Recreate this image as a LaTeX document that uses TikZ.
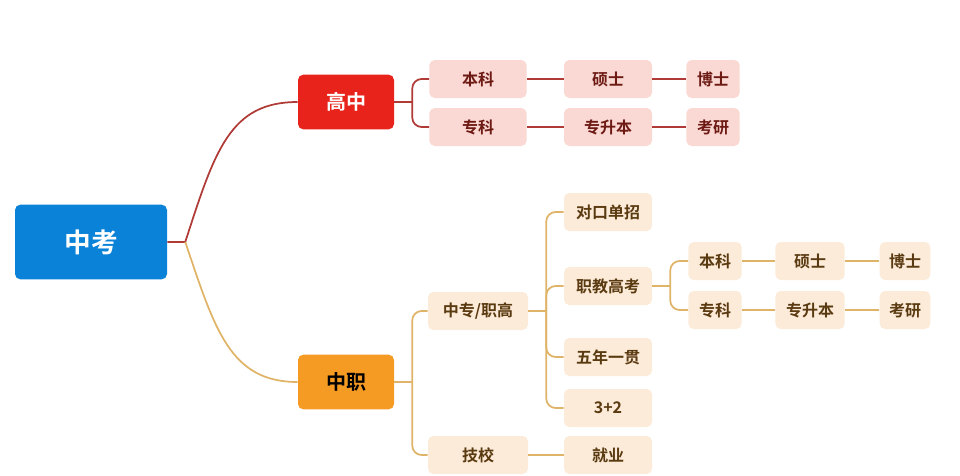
\documentclass[tikz,border=0pt]{standalone}
\usepackage{fontspec}
\setmainfont{Noto Sans CJK SC}[BoldFont={* Bold}]
\usetikzlibrary{positioning}
\definecolor{rootblue}{HTML}{0A82D8}
\definecolor{gzred}{HTML}{E8231B}
\definecolor{zzorange}{HTML}{F59A23}
\definecolor{pinkbox}{HTML}{FAD8D3}
\definecolor{creambox}{HTML}{FCEBD9}
\definecolor{redtext}{HTML}{6E1A14}
\definecolor{browntext}{HTML}{5A3A10}
\definecolor{redline}{HTML}{B03A36}
\definecolor{goldline}{HTML}{E0B468}
\tikzset{
  box/.style={rounded corners=4pt, inner sep=0pt, font=\bfseries\fontsize{12}{12}\selectfont},
  rbox/.style={box, fill=pinkbox, text=redtext, minimum height=28.5pt},
  obox/.style={box, fill=creambox, text=browntext, minimum height=28.5pt},
  rline/.style={redline, line width=1.3pt},
  oline/.style={goldline, line width=1.3pt},
  brk/.style={rounded corners=7pt}
}
\begin{document}
\begin{tikzpicture}[x=0.75pt,y=-0.75pt]
  \useasboundingbox (0,0) rectangle (960,475);
  % main nodes
  \node[box, fill=rootblue, text=white, minimum width=114pt, minimum height=56pt,
        font=\bfseries\fontsize{20}{20}\selectfont] (zk) at (91,242) {中考};
  \node[box, fill=gzred, text=white, minimum width=72pt, minimum height=41pt,
        font=\bfseries\fontsize{15}{15}\selectfont] (gz) at (346,102) {高中};
  \node[box, fill=zzorange, text=black, minimum width=72pt, minimum height=41pt,
        font=\bfseries\fontsize{15}{15}\selectfont] (zz) at (346,382) {中职};
  % high school branch
  \node[rbox, minimum width=73pt] (gbk) at (478,79) {本科};
  \node[rbox, minimum width=73pt] (gzk) at (478,127) {专科};
  \node[rbox, minimum width=66pt] (gss) at (608,79) {硕士};
  \node[rbox, minimum width=66pt] (gzsb) at (608,127) {专升本};
  \node[rbox, minimum width=40pt] (gbs) at (713,79) {博士};
  \node[rbox, minimum width=40pt] (gky) at (713,127) {考研};
  % vocational branch
  \node[obox, minimum width=75pt] (zzzg) at (478,311) {中专/职高};
  \node[obox, minimum width=75pt] (jx) at (478,455) {技校};
  \node[obox, minimum width=66pt] (dk) at (608,212) {对口单招};
  \node[obox, minimum width=66pt] (zjgk) at (608,286) {职教高考};
  \node[obox, minimum width=66pt] (wn) at (608,357) {五年一贯};
  \node[obox, minimum width=66pt] (sj) at (608,408) {3+2};
  \node[obox, minimum width=66pt] (jy) at (608,455) {就业};
  \node[obox, minimum width=40pt] (obk) at (715,261) {本科};
  \node[obox, minimum width=40pt] (ozk) at (715,310) {专科};
  \node[obox, minimum width=52pt] (oss) at (810,261) {硕士};
  \node[obox, minimum width=52pt] (ozsb) at (810,310) {专升本};
  \node[obox, minimum width=38pt] (obs) at (905,261) {博士};
  \node[obox, minimum width=38pt] (oky) at (905,310) {考研};
  % root curves
  \draw[rline] (zk.east) -- ++(18,0) coordinate (zkr)
    .. controls (215,150) and (230,102) .. (gz.west);
  \draw[oline] (zkr) .. controls (215,330) and (230,382) .. (zz.west);
  % brackets
  \draw[rline] (gz.east) -- ++(18,0) coordinate (gzb);
  \draw[rline,brk] (gzb) |- (gbk.west);
  \draw[rline,brk] (gzb) |- (gzk.west);
  \draw[oline] (zz.east) -- ++(18,0) coordinate (zzb);
  \draw[oline,brk] (zzb) |- (zzzg.west);
  \draw[oline,brk] (zzb) |- (jx.west);
  \draw[oline] (zzzg.east) -- ++(18,0) coordinate (zgb);
  \foreach \n in {dk,zjgk,wn,sj} \draw[oline,brk] (zgb) |- (\n.west);
  \draw[oline] (zjgk.east) -- ++(18,0) coordinate (gkb);
  \draw[oline,brk] (gkb) |- (obk.west);
  \draw[oline,brk] (gkb) |- (ozk.west);
  % chains
  \draw[rline] (gbk) -- (gss);
  \draw[rline] (gss) -- (gbs);
  \draw[rline] (gzk) -- (gzsb);
  \draw[rline] (gzsb) -- (gky);
  \draw[oline] (jx) -- (jy);
  \draw[oline] (obk) -- (oss);
  \draw[oline] (oss) -- (obs);
  \draw[oline] (ozk) -- (ozsb);
  \draw[oline] (ozsb) -- (oky);
\end{tikzpicture}
\end{document}
